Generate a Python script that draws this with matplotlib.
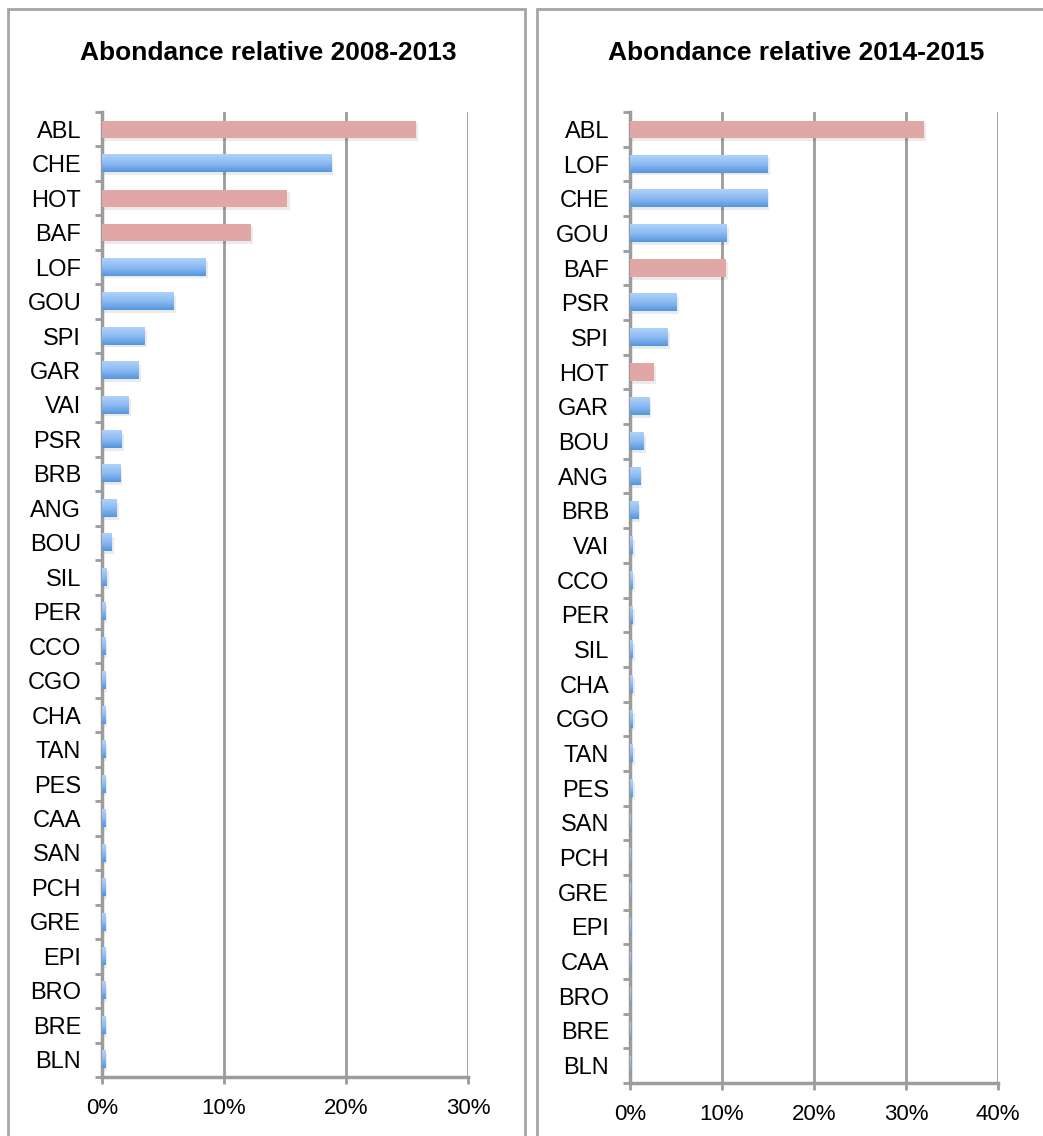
import numpy as np
import matplotlib.pyplot as plt
import matplotlib.patheffects as pe
from matplotlib.colors import LinearSegmentedColormap
from matplotlib.patches import Rectangle

plt.rcParams['font.family'] = ['Liberation Sans', 'DejaVu Sans']

# Data (relative abundance, %)
species_1 = ['ABL', 'CHE', 'HOT', 'BAF', 'LOF', 'GOU', 'SPI', 'GAR', 'VAI', 'PSR',
             'BRB', 'ANG', 'BOU', 'SIL', 'PER', 'CCO', 'CGO', 'CHA', 'TAN', 'PES',
             'CAA', 'SAN', 'PCH', 'GRE', 'EPI', 'BRO', 'BRE', 'BLN']
values_1 = [25.7, 18.8, 15.2, 12.2, 8.5, 5.9, 3.5, 3.0, 2.2, 1.6,
            1.5, 1.2, 0.8, 0.4, 0.25, 0.25, 0.25, 0.25, 0.25, 0.25,
            0.25, 0.25, 0.25, 0.25, 0.25, 0.25, 0.25, 0.25]

species_2 = ['ABL', 'LOF', 'CHE', 'GOU', 'BAF', 'PSR', 'SPI', 'HOT', 'GAR', 'BOU',
             'ANG', 'BRB', 'VAI', 'CCO', 'PER', 'SIL', 'CHA', 'CGO', 'TAN', 'PES',
             'SAN', 'PCH', 'GRE', 'EPI', 'CAA', 'BRO', 'BRE', 'BLN']
values_2 = [32.0, 15.0, 14.9, 10.5, 10.4, 5.1, 4.1, 2.6, 2.1, 1.5,
            1.1, 0.9, 0.3, 0.3, 0.3, 0.3, 0.3, 0.3, 0.3, 0.3,
            0.02, 0.02, 0.02, 0.02, 0.02, 0.02, 0.02, 0.02]

# species highlighted in pink
highlight = ['ABL', 'HOT', 'BAF']

PINK = '#E1A7A6'
GRID = '#9C9C9C'
blue_cmap = LinearSegmentedColormap.from_list('blues', ['#AED2FA', '#8DBBF2', '#5596DD'])
grad = np.linspace(0, 1, 64).reshape(-1, 1)


def draw_panel(ax, names, vals, xmax, step):
    h = 0.5
    y = np.arange(len(names))
    shade = pe.SimplePatchShadow(offset=(1.5, -2), alpha=0.08, shadow_rgbFace='k')
    for yi, name, v in zip(y, names, vals):
        if name in highlight:
            ax.barh(yi, v, height=h, color=PINK, zorder=3, path_effects=[shade, pe.Normal()])
        else:
            ax.barh(yi, v, height=h, color='none', edgecolor='none', zorder=2,
                    path_effects=[shade])
            ax.imshow(grad, cmap=blue_cmap, aspect='auto', origin='lower',
                      extent=(0, v, yi - h / 2, yi + h / 2), zorder=3)

    ax.set_xlim(0, xmax)
    ax.set_ylim(len(names) - 0.5, -0.5)
    ax.set_yticks(y)
    ax.set_yticklabels(names)
    ax.set_yticks(np.arange(-0.5, len(names)), minor=True)
    ticks = np.arange(0, xmax + 1, step)
    ax.set_xticks(ticks)
    ax.set_xticklabels([f'{int(t)}%' for t in ticks])

    ax.tick_params(axis='y', which='major', length=0, pad=15, labelsize=17)
    ax.tick_params(axis='y', which='minor', length=5, width=2, color=GRID)
    ax.tick_params(axis='x', length=5, width=2, color=GRID, pad=10, labelsize=16)

    for t in ticks[1:]:
        ax.axvline(t, color=GRID, lw=2, zorder=1)
    for s in ['top', 'right']:
        ax.spines[s].set_visible(False)
    for s in ['left', 'bottom']:
        ax.spines[s].set_color(GRID)
        ax.spines[s].set_linewidth(2.5)


fig = plt.figure(figsize=(10.43, 11.36), dpi=100)

# panel frames
W, H = 1043, 1136
for x0, x1 in [(8, 525), (537, 1050)]:
    fig.patches.append(Rectangle((x0 / W, -0.05), (x1 - x0) / W, 1 - 9 / H + 0.05,
                                 transform=fig.transFigure, fill=False,
                                 edgecolor='#A5A5A5', lw=2))

ax1 = fig.add_axes([102 / W, 1 - 1077 / H, (468 - 102) / W, (1077 - 112) / H])
ax2 = fig.add_axes([630 / W, 1 - 1083 / H, (998 - 630) / W, (1083 - 112) / H])

draw_panel(ax1, species_1, values_1, 30, 10)
draw_panel(ax2, species_2, values_2, 40, 10)

fig.text(268 / W, 1 - 53 / H, 'Abondance relative 2008-2013', ha='center', va='center',
         fontsize=19, fontweight='bold')
fig.text(796 / W, 1 - 53 / H, 'Abondance relative 2014-2015', ha='center', va='center',
         fontsize=19, fontweight='bold')

fig.savefig('out.png', dpi=100)
